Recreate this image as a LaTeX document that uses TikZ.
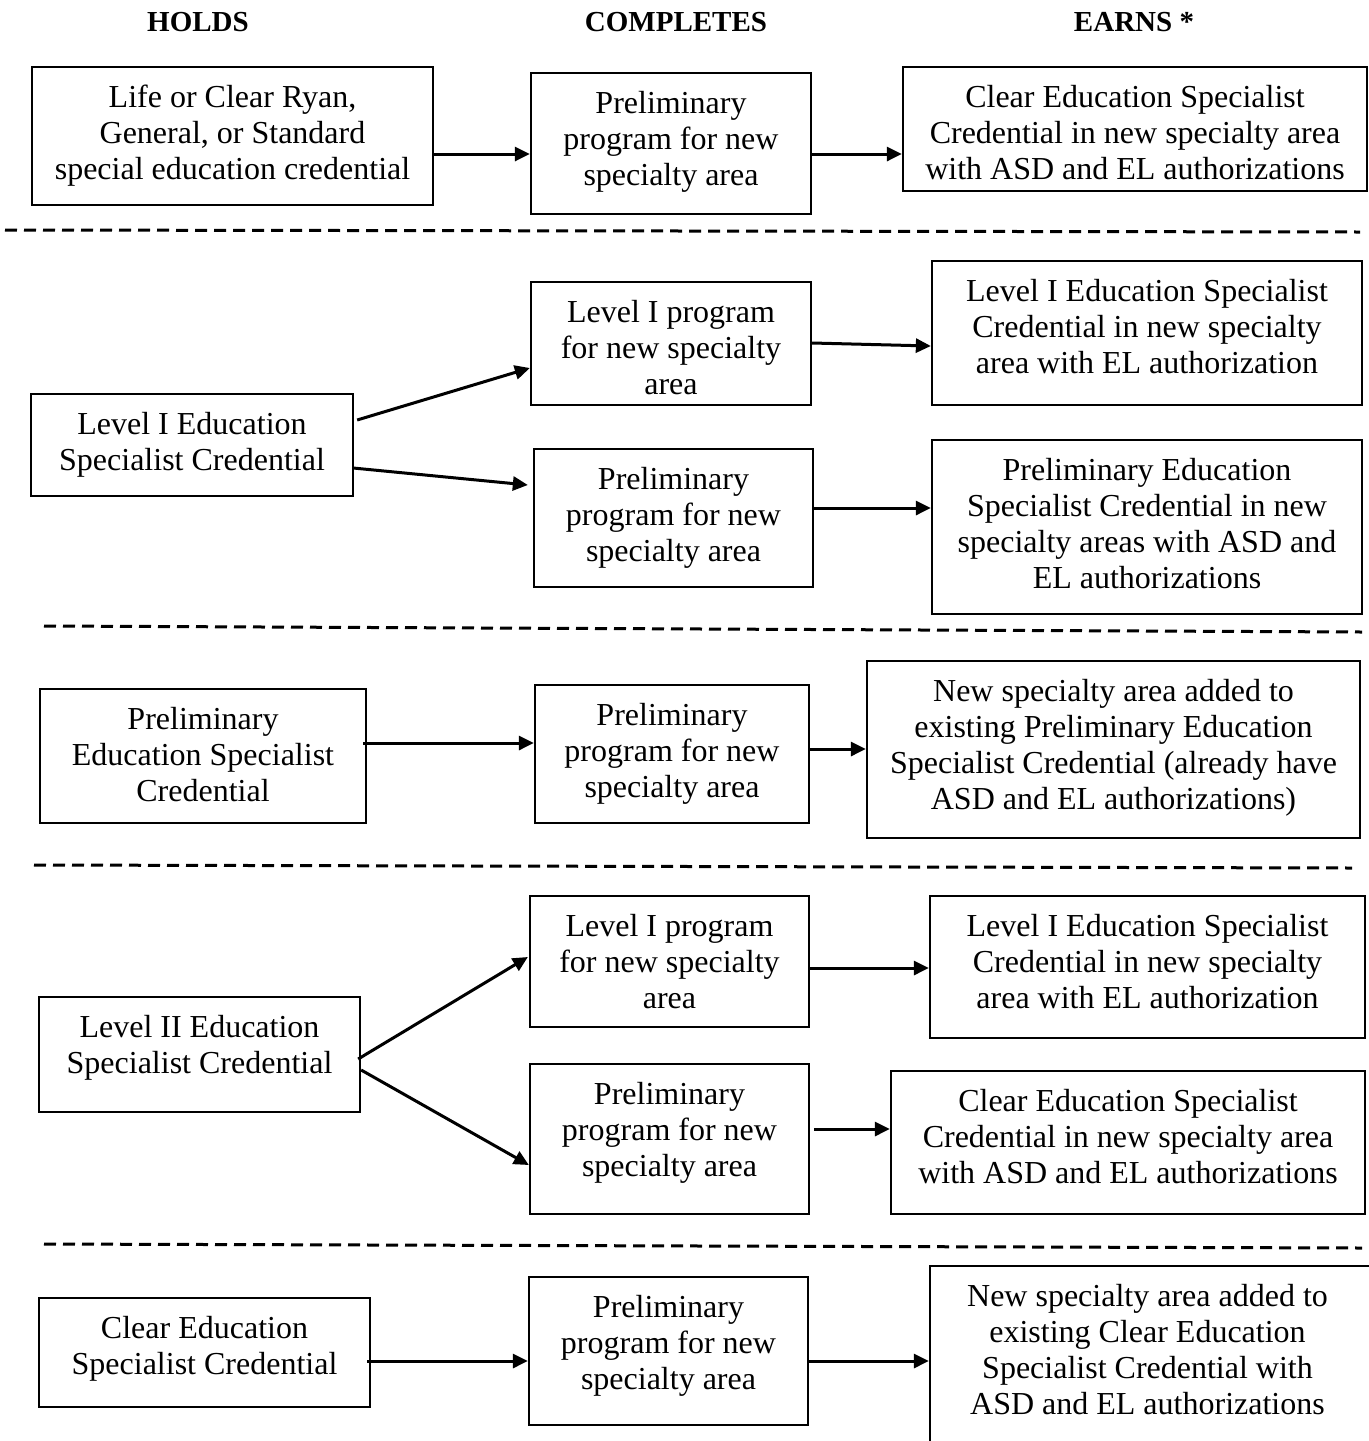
\documentclass[tikz,border=0pt]{standalone}
\usepackage{fontspec}
\setmainfont{Liberation Serif}
\usetikzlibrary{arrows.meta,fit}
\tikzset{
  x=0.5pt, y=-0.5pt,
  box/.style={draw, line width=1.15pt, inner sep=0pt},
  txt/.style={anchor=north, align=center, inner sep=0pt, font=\fontsize{16}{18}\selectfont},
  hdr/.style={anchor=base, inner sep=0pt, font=\fontsize{14.5}{17}\selectfont\bfseries},
  arr/.style={-{Triangle[length=7.5pt,width=7pt]}, line width=1.5pt},
  sep/.style={dash pattern=on 6pt off 3.5pt, line width=1.5pt},
}
\begin{document}
\begin{tikzpicture}
\fill[white] (0,0) rectangle (1369,1441);
\useasboundingbox (0,0) rectangle (1369,1441);

% headers
\node[hdr] (h1) at (198,31.5) {HOLDS};
\node[hdr] (h2) at (676,31.5) {COMPLETES};
\node[hdr] (h3) at (1134,31.5) {EARNS *};

% row 1
\node[box, fit={(32,67)(433,205)}] (a1) {};
\node[box, fit={(531,73)(811,214)}] (b1) {};
\node[box, fit={(903,67)(1367,191)}] (c1) {};
\node[txt] (a1t) at (232.5,81.5) {\strut Life or Clear Ryan,\\General, or Standard\\special education credential};
\node[txt] (b1t) at (671,87.5) {\strut Preliminary\\program for new\\specialty area};
\node[txt] (c1t) at (1135,81.5) {\strut Clear Education Specialist\\Credential in new specialty area\\with ASD and EL authorizations};
\draw[arr] ([shift={(0,18)}]a1.east) -- ([shift={(0,10.5)}]b1.west);
\draw[arr] ([shift={(-2,10.5)}]b1.east) -- ([shift={(0,25)}]c1.west);

\draw[sep] (5,230) -- (1360,232);

% row 2
\node[box, fit={(31,394)(353,496)}] (a2) {};
\node[box, fit={(531,282)(811,405)}] (b2a) {};
\node[box, fit={(534,449)(813,587)}] (b2b) {};
\node[box, fit={(932,261)(1362,405)}] (c2a) {};
\node[box, fit={(932,440)(1362,614)}] (c2b) {};
\node[txt] (a2t) at (192,408.5) {\strut Level I Education\\Specialist Credential};
\node[txt] (b2at) at (671,296.5) {\strut Level I program\\for new specialty\\area};
\node[txt] (b2bt) at (673.5,463.5) {\strut Preliminary\\program for new\\specialty area};
\node[txt] (c2at) at (1147,275.5) {\strut Level I Education Specialist\\Credential in new specialty\\area with EL authorization};
\node[txt] (c2bt) at (1147,454.5) {\strut Preliminary Education\\Specialist Credential in new\\specialty areas with ASD and\\EL authorizations};
\draw[arr] ([shift={(3,-25)}]a2.east) -- ([shift={(0,24.5)}]b2a.west);
\draw[arr] ([shift={(-1,23)}]a2.east) -- ([shift={(-5,-33)}]b2b.west);
\draw[arr] ([shift={(0,-0.5)}]b2a.east) -- ([shift={(0,13)}]c2a.west);
\draw[arr] ([shift={(0,-10)}]b2b.east) -- ([shift={(0,-19)}]c2b.west);

\draw[sep] (44,626) -- (1362,632);

% row 3
\node[box, fit={(40,689)(366,823)}] (a3) {};
\node[box, fit={(535,685)(809,823)}] (b3) {};
\node[box, fit={(867,661)(1360,838)}] (c3) {};
\node[txt] (a3t) at (203,703.5) {\strut Preliminary\\Education Specialist\\Credential};
\node[txt] (b3t) at (672,699.5) {\strut Preliminary\\program for new\\specialty area};
\node[txt] (c3t) at (1113.5,675.5) {\strut New specialty area added to\\existing Preliminary Education\\Specialist Credential (already have\\ASD and EL authorizations)};
\draw[arr] ([shift={(-4,-13)}]a3.east) -- ([shift={(0,-11)}]b3.west);
\draw[arr] ([shift={(0,-5)}]b3.east) -- ([shift={(0,-0.5)}]c3.west);

\draw[sep] (34,865) -- (1352,868);

% row 4
\node[box, fit={(39,997)(360,1112)}] (a4) {};
\node[box, fit={(530,896)(809,1027)}] (b4a) {};
\node[box, fit={(530,1064)(809,1214)}] (b4b) {};
\node[box, fit={(930,896)(1365,1038)}] (c4a) {};
\node[box, fit={(891,1071)(1365,1214)}] (c4b) {};
\node[txt] (a4t) at (199.5,1011.5) {\strut Level II Education\\Specialist Credential};
\node[txt] (b4at) at (669.5,910.5) {\strut Level I program\\for new specialty\\area};
\node[txt] (b4bt) at (669.5,1078.5) {\strut Preliminary\\program for new\\specialty area};
\node[txt] (c4at) at (1147.5,910.5) {\strut Level I Education Specialist\\Credential in new specialty\\area with EL authorization};
\node[txt] (c4bt) at (1128,1085.5) {\strut Clear Education Specialist\\Credential in new specialty area\\with ASD and EL authorizations};
\draw[arr] ([shift={(-3,4.5)}]a4.east) -- ([shift={(-1,-4.5)}]b4a.west);
\draw[arr] ([shift={(0,15.5)}]a4.east) -- ([shift={(0,26)}]b4b.west);
\draw[arr] ([shift={(0,6.5)}]b4a.east) -- ([shift={(0,1)}]c4a.west);
\draw[arr] ([shift={(4,-10)}]b4b.east) -- ([shift={(0,-13.5)}]c4b.west);

\draw[sep] (44,1244) -- (1362,1248);

% row 5
\node[box, fit={(39,1298)(370,1407)}] (a5) {};
\node[box, fit={(529,1277)(808,1425)}] (b5) {};
\node[box, fit={(930,1266)(1375,1460)}] (c5) {};
\node[txt] (a5t) at (204.5,1312.5) {\strut Clear Education\\Specialist Credential};
\node[txt] (b5t) at (668.5,1291.5) {\strut Preliminary\\program for new\\specialty area};
\node[txt] (c5t) at (1147.5,1280.5) {\strut New specialty area added to\\existing Clear Education\\Specialist Credential with\\ASD and EL authorizations};
\draw[arr] ([shift={(-4,8.5)}]a5.east) -- ([shift={(0,10)}]b5.west);
\draw[arr] ([shift={(0,10)}]b5.east) -- ([shift={(0,-2)}]c5.west);
\end{tikzpicture}
\end{document}
